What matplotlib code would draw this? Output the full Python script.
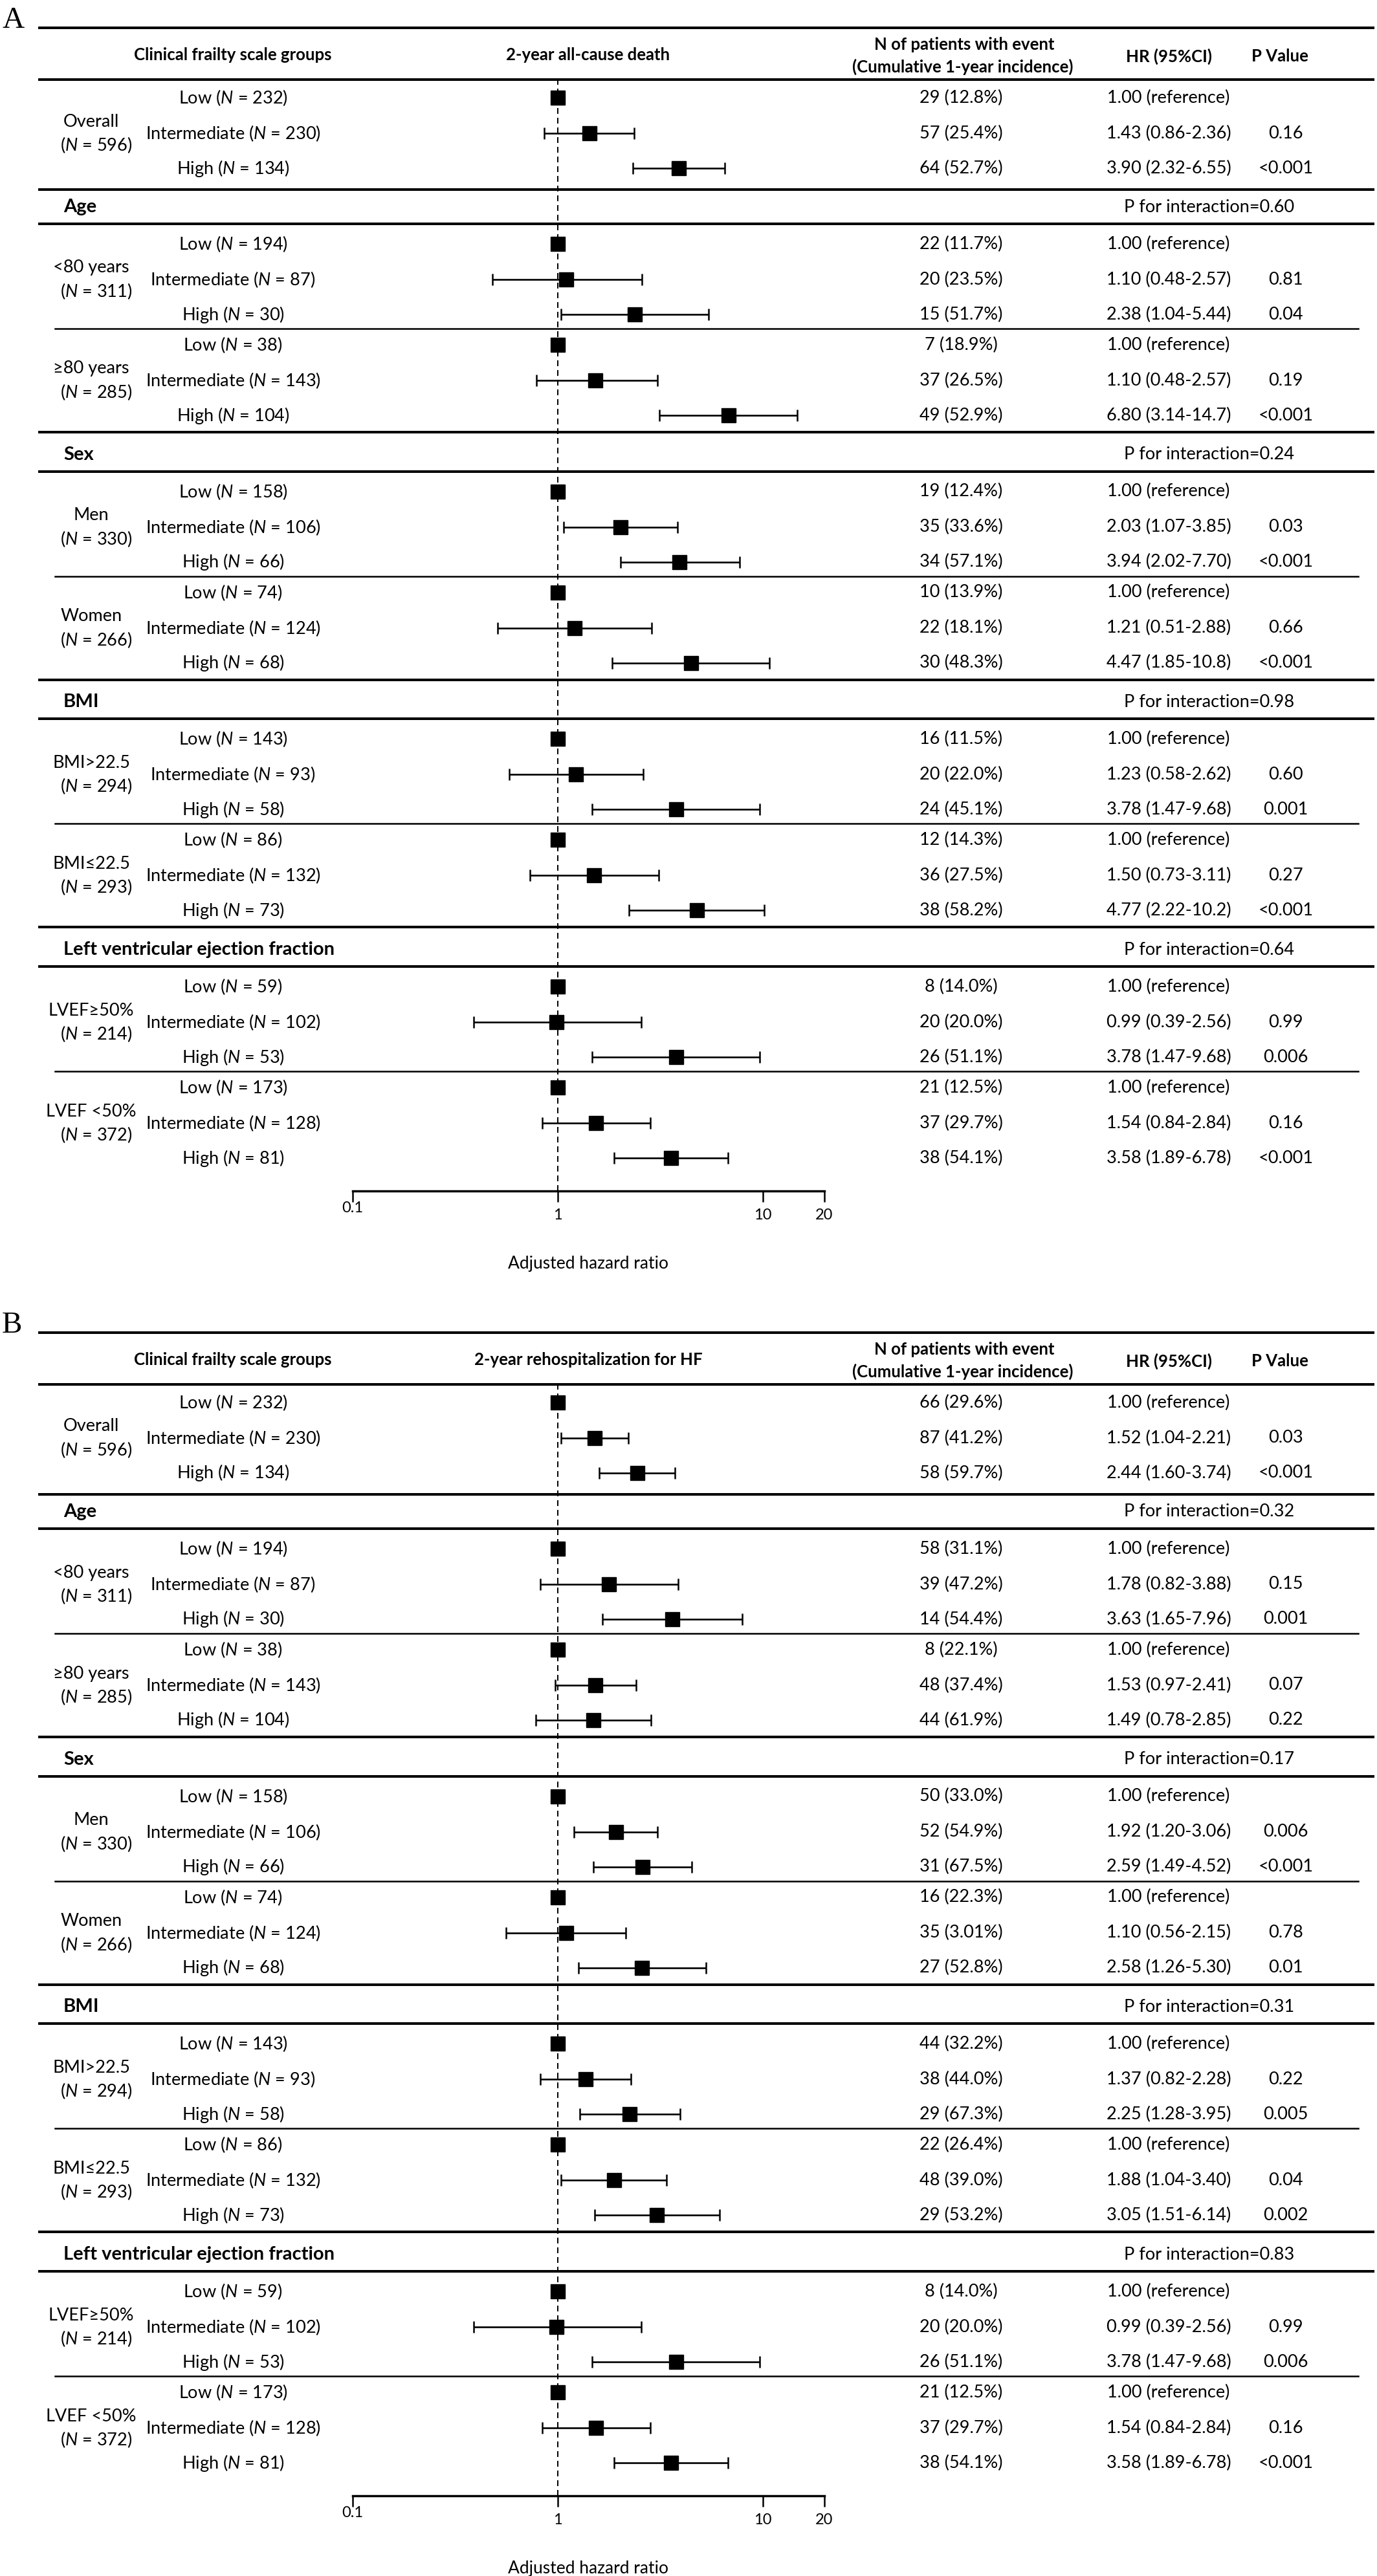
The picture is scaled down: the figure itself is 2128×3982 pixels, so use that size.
"""Forest plots: clinical frailty scale groups and 2-year outcomes."""

import matplotlib
matplotlib.use("Agg")
import matplotlib.pyplot as plt
import numpy as np

plt.rcParams["font.family"] = ["Lato", "DejaVu Sans"]
plt.rcParams["mathtext.fontset"] = "custom"
plt.rcParams["mathtext.rm"] = "Lato"
plt.rcParams["mathtext.it"] = "Lato:italic"
plt.rcParams["mathtext.bf"] = "Lato:bold"

nan = np.nan

# Rows shared by both panels
groups = ["Low", "Intermediate", "High"]
categories = ["Age", "Sex", "BMI", "Left ventricular ejection fraction"]
subgroups = ["Overall", "<80 years", "≥80 years", "Men", "Women",
             "BMI>22.5", "BMI≤22.5", "LVEF≥50%", "LVEF <50%"]
subgroup_n = [596, 311, 285, 330, 266, 294, 293, 214, 372]
group_n = [[232, 230, 134], [194, 87, 30], [38, 143, 104], [158, 106, 66],
           [74, 124, 68], [143, 93, 58], [86, 132, 73], [59, 102, 53],
           [173, 128, 81]]
ref = "1.00 (reference)"

# Panel A: 2-year all-cause death
a_title = "2-year all-cause death"
a_events = [["29 (12.8%)", "57 (25.4%)", "64 (52.7%)"],
            ["22 (11.7%)", "20 (23.5%)", "15 (51.7%)"],
            ["7 (18.9%)", "37 (26.5%)", "49 (52.9%)"],
            ["19 (12.4%)", "35 (33.6%)", "34 (57.1%)"],
            ["10 (13.9%)", "22 (18.1%)", "30 (48.3%)"],
            ["16 (11.5%)", "20 (22.0%)", "24 (45.1%)"],
            ["12 (14.3%)", "36 (27.5%)", "38 (58.2%)"],
            ["8 (14.0%)", "20 (20.0%)", "26 (51.1%)"],
            ["21 (12.5%)", "37 (29.7%)", "38 (54.1%)"]]
a_hr_text = [[ref, "1.43 (0.86-2.36)", "3.90 (2.32-6.55)"],
             [ref, "1.10 (0.48-2.57)", "2.38 (1.04-5.44)"],
             [ref, "1.10 (0.48-2.57)", "6.80 (3.14-14.7)"],
             [ref, "2.03 (1.07-3.85)", "3.94 (2.02-7.70)"],
             [ref, "1.21 (0.51-2.88)", "4.47 (1.85-10.8)"],
             [ref, "1.23 (0.58-2.62)", "3.78 (1.47-9.68)"],
             [ref, "1.50 (0.73-3.11)", "4.77 (2.22-10.2)"],
             [ref, "0.99 (0.39-2.56)", "3.78 (1.47-9.68)"],
             [ref, "1.54 (0.84-2.84)", "3.58 (1.89-6.78)"]]
a_p = [["", "0.16", "<0.001"], ["", "0.81", "0.04"], ["", "0.19", "<0.001"],
       ["", "0.03", "<0.001"], ["", "0.66", "<0.001"], ["", "0.60", "0.001"],
       ["", "0.27", "<0.001"], ["", "0.99", "0.006"], ["", "0.16", "<0.001"]]
a_p_inter = ["0.60", "0.24", "0.98", "0.64"]
# plotted estimates (as drawn in the picture)
a_hr = [[1, 1.43, 3.90], [1, 1.10, 2.38], [1, 1.53, 6.80], [1, 2.03, 3.94],
        [1, 1.21, 4.47], [1, 1.23, 3.78], [1, 1.50, 4.77], [1, 0.99, 3.78],
        [1, 1.54, 3.58]]
a_lo = [[nan, 0.86, 2.32], [nan, 0.48, 1.04], [nan, 0.79, 3.14],
        [nan, 1.07, 2.02], [nan, 0.51, 1.85], [nan, 0.58, 1.47],
        [nan, 0.73, 2.22], [nan, 0.39, 1.47], [nan, 0.84, 1.89]]
a_hi = [[nan, 2.36, 6.55], [nan, 2.57, 5.44], [nan, 3.06, 14.7],
        [nan, 3.85, 7.70], [nan, 2.88, 10.8], [nan, 2.62, 9.68],
        [nan, 3.11, 10.2], [nan, 2.56, 9.68], [nan, 2.84, 6.78]]

# Panel B: 2-year rehospitalization for HF
b_title = "2-year rehospitalization for HF"
b_events = [["66 (29.6%)", "87 (41.2%)", "58 (59.7%)"],
            ["58 (31.1%)", "39 (47.2%)", "14 (54.4%)"],
            ["8 (22.1%)", "48 (37.4%)", "44 (61.9%)"],
            ["50 (33.0%)", "52 (54.9%)", "31 (67.5%)"],
            ["16 (22.3%)", "35 (3.01%)", "27 (52.8%)"],
            ["44 (32.2%)", "38 (44.0%)", "29 (67.3%)"],
            ["22 (26.4%)", "48 (39.0%)", "29 (53.2%)"],
            ["8 (14.0%)", "20 (20.0%)", "26 (51.1%)"],
            ["21 (12.5%)", "37 (29.7%)", "38 (54.1%)"]]
b_hr_text = [[ref, "1.52 (1.04-2.21)", "2.44 (1.60-3.74)"],
             [ref, "1.78 (0.82-3.88)", "3.63 (1.65-7.96)"],
             [ref, "1.53 (0.97-2.41)", "1.49 (0.78-2.85)"],
             [ref, "1.92 (1.20-3.06)", "2.59 (1.49-4.52)"],
             [ref, "1.10 (0.56-2.15)", "2.58 (1.26-5.30)"],
             [ref, "1.37 (0.82-2.28)", "2.25 (1.28-3.95)"],
             [ref, "1.88 (1.04-3.40)", "3.05 (1.51-6.14)"],
             [ref, "0.99 (0.39-2.56)", "3.78 (1.47-9.68)"],
             [ref, "1.54 (0.84-2.84)", "3.58 (1.89-6.78)"]]
b_p = [["", "0.03", "<0.001"], ["", "0.15", "0.001"], ["", "0.07", "0.22"],
       ["", "0.006", "<0.001"], ["", "0.78", "0.01"], ["", "0.22", "0.005"],
       ["", "0.04", "0.002"], ["", "0.99", "0.006"], ["", "0.16", "<0.001"]]
b_p_inter = ["0.32", "0.17", "0.31", "0.83"]
b_hr = [[1, 1.52, 2.44], [1, 1.78, 3.63], [1, 1.53, 1.49], [1, 1.92, 2.59],
        [1, 1.10, 2.58], [1, 1.37, 2.25], [1, 1.88, 3.05], [1, 0.99, 3.78],
        [1, 1.54, 3.58]]
b_lo = [[nan, 1.04, 1.60], [nan, 0.82, 1.65], [nan, 0.97, 0.78],
        [nan, 1.20, 1.49], [nan, 0.56, 1.26], [nan, 0.82, 1.28],
        [nan, 1.04, 1.51], [nan, 0.39, 1.47], [nan, 0.84, 1.89]]
b_hi = [[nan, 2.21, 3.74], [nan, 3.88, 7.96], [nan, 2.41, 2.85],
        [nan, 3.06, 4.52], [nan, 2.15, 5.30], [nan, 2.28, 3.95],
        [nan, 3.40, 6.14], [nan, 2.56, 9.68], [nan, 2.84, 6.78]]

W, H = 2128, 3982
fig = plt.figure(figsize=(W / 100, H / 100), dpi=100)
bg = fig.add_axes([0, 0, 1, 1])
bg.set_xlim(0, W)
bg.set_ylim(H, 0)
bg.axis("off")

FS = 19.5       # body text
FS_HEAD = 18.5  # column headers
FS_CAT = 21     # category headers
THICK = 2.9
THIN = 1.8


def layout(top):
    """Pixel y of every row, category header and rule for one panel."""
    rows = [[top + 108, top + 163, top + 217]]
    cat_y, thin_y, thick_y = [], [], [top + 80, top + 250]
    for k in range(4):
        h = top + 277 + k * 382.7
        cat_y.append(h)
        thick_y.append(h + 26)
        rows.append([h + 57, h + 112, h + 166])
        thin_y.append(h + 188)
        rows.append([h + 213, h + 268, h + 322])
        if k < 3:
            thick_y.append(h + 348)
    return rows, cat_y, thin_y, thick_y


def draw_panel(top, letter, title, events, hr_text, pvals, p_inter, hr, lo, hi):
    rows, cat_y, thin_y, thick_y = layout(top)
    axis_y = top + 1798

    bg.text(3, top, letter, fontsize=34, family="Liberation Serif",
            ha="left", va="baseline")
    bg.plot([61, 2122], [top, top], color="black", lw=THICK)
    for y in thick_y:
        bg.plot([61, 2122], [y, y], color="black", lw=THICK)
    for y in thin_y:
        bg.plot([85, 2099], [y, y], color="black", lw=THIN)

    # column headers
    bg.text(360, top + 42, "Clinical frailty scale groups", fontsize=FS_HEAD,
            weight="bold", ha="center", va="center")
    bg.text(909, top + 42, title, fontsize=FS_HEAD, weight="bold",
            ha="center", va="center")
    bg.text(1490, top + 26, "N of patients with event", fontsize=FS_HEAD,
            weight="bold", ha="center", va="center")
    bg.text(1488, top + 60, "(Cumulative 1-year incidence)", fontsize=FS_HEAD,
            weight="bold", ha="center", va="center")
    bg.text(1807, top + 44, "HR (95%CI)", fontsize=FS_HEAD, weight="bold",
            ha="center", va="center")
    bg.text(1978, top + 44, "P Value", fontsize=FS_HEAD, weight="bold",
            ha="center", va="center")

    for k, cat in enumerate(categories):
        bg.text(98, cat_y[k], cat, fontsize=FS_CAT, weight="bold",
                ha="left", va="center")
        bg.text(1737, cat_y[k], "P for interaction=" + p_inter[k],
                fontsize=FS, ha="left", va="center")

    for i, sub in enumerate(subgroups):
        ym = rows[i][1]
        bg.text(141, ym - 18, sub, fontsize=FS, ha="center", va="center")
        bg.text(149, ym + 18, "($N$ = %d)" % subgroup_n[i], fontsize=FS,
                ha="center", va="center")
        for j, g in enumerate(groups):
            y = rows[i][j]
            bg.text(360, y, "%s ($N$ = %d)" % (g, group_n[i][j]), fontsize=FS,
                    ha="center", va="center")
            bg.text(1485, y, events[i][j], fontsize=FS, ha="center", va="center")
            bg.text(1806, y, hr_text[i][j], fontsize=FS, ha="center", va="center")
            if pvals[i][j]:
                bg.text(1987, y, pvals[i][j], fontsize=FS, ha="center",
                        va="center")

    # forest axes: log x from 0.1 to 20, y in pixel rows
    x0, x1 = 545, 1274
    ax = fig.add_axes([x0 / W, 1 - axis_y / H, (x1 - x0) / W,
                       (axis_y - (top + 80)) / H])
    ax.set_facecolor("none")
    ax.set_xscale("log")
    ax.set_xlim(0.1, 20)
    ax.set_ylim(axis_y, top + 80)
    for s in ["top", "left", "right"]:
        ax.spines[s].set_visible(False)
    ax.spines["bottom"].set_linewidth(2.5)
    ax.set_yticks([])
    ax.set_xticks([0.1, 1, 10, 20])
    ax.set_xticklabels(["0.1", "1", "10", "20"])
    ax.xaxis.set_minor_locator(matplotlib.ticker.NullLocator())
    ax.tick_params(axis="x", direction="out", length=12.2, width=1.8,
                   labelsize=17, pad=7)
    ax.get_xticklabels()[0].set_y(0.0064)
    ax.set_xlabel("Adjusted hazard ratio", fontsize=19, labelpad=38)

    ax.axvline(1, color="black", lw=1.44, ls=(0, (4.5, 3.0)), zorder=1)

    y_all = np.array(rows, dtype=float).ravel()
    hr_all = np.array(hr, dtype=float).ravel()
    lo_all = np.array(lo, dtype=float).ravel()
    hi_all = np.array(hi, dtype=float).ravel()
    has_ci = ~np.isnan(lo_all)
    ax.errorbar(hr_all[has_ci], y_all[has_ci],
                xerr=[hr_all[has_ci] - lo_all[has_ci],
                      hi_all[has_ci] - hr_all[has_ci]],
                fmt="none", ecolor="black", elinewidth=1.9, capsize=6.5,
                capthick=1.8, zorder=2)
    ax.plot(hr_all, y_all, "s", color="black", markersize=15.8, zorder=3)


draw_panel(43, "A", a_title, a_events, a_hr_text, a_p, a_p_inter,
           a_hr, a_lo, a_hi)
draw_panel(2060, "B", b_title, b_events, b_hr_text, b_p, b_p_inter,
           b_hr, b_lo, b_hi)

fig.savefig("out.png", dpi=100, facecolor="white")
